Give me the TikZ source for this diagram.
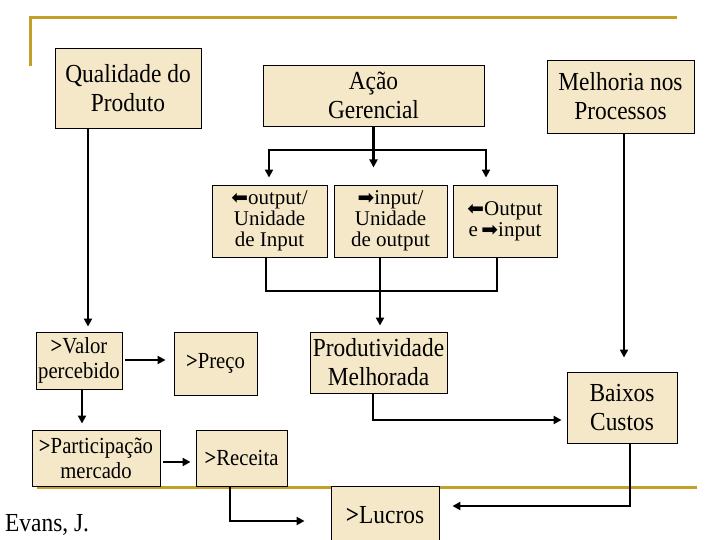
\documentclass[tikz,border=0pt]{standalone}
\usepackage{fontspec}
\setmainfont{Liberation Serif}
\newfontfamily\bigf{Liberation Serif}[FakeStretch=0.9]
\newfontfamily\symf{DejaVu Sans}
\usetikzlibrary{arrows.meta}
\definecolor{boxfill}{RGB}{245,232,200}
\definecolor{gold}{RGB}{196,160,40}
\newcommand\myLarr{{\symf\fontsize{20}{20}\selectfont ⬅}}
\newcommand\myRarr{{\symf\fontsize{20}{20}\selectfont ➡}}
\begin{document}
\begin{tikzpicture}[x=1pt,y=-1pt,
 box/.style={draw=black,line width=0.9pt,fill=boxfill,inner sep=0pt,align=center},
 bigt/.style={font=\bigf\fontsize{26}{29}\selectfont},
 medt/.style={font=\bigf\fontsize{23}{25}\selectfont},
 smt/.style={font=\fontsize{21}{21}\selectfont},
 ln/.style={line width=2.6pt},
 arr/.style={ln,-{Triangle[length=8pt,width=8pt]}},
 darr/.style={ln,{Triangle[length=8pt,width=8pt]}-{Triangle[length=8pt,width=8pt]}},
 goldln/.style={draw=gold,line width=3pt}]
\useasboundingbox (0,0) rectangle (720,540);
\clip (0,0) rectangle (720,540);
\fill[white] (0,0) rectangle (720,540);
\draw[goldln] (30,66) -- (30,18) -- (677,18);
\draw[goldln] (37,487) -- (697,487);

% boxes
\node[box,bigt,minimum width=146pt,minimum height=80pt] (qual) at (128,88) {Qualidade do\\Produto};
\node[box,bigt,minimum width=221pt,minimum height=61pt] (acao) at (373.5,95.5) {Ação\\Gerencial};
\node[box,bigt,minimum width=147pt,minimum height=73pt] (melh) at (620.5,96.5) {Melhoria nos\\Processos};
\node[box,smt,minimum width=115pt,minimum height=72pt] (outp) at (269.5,221) {\myLarr output/\\Unidade\\de Input};
\node[box,smt,minimum width=113pt,minimum height=72pt] (inp) at (390.5,221) {\myRarr input/\\Unidade\\de output};
\node[box,smt,minimum width=104pt,minimum height=72pt] (both) at (505,221) {\myLarr Output\\e\,\myRarr input};
\node[box,medt,minimum width=86pt,minimum height=57pt] (valor) at (79,360.5) {\textbf{>}Valor\\percebido};
\node[box,medt,minimum width=83pt,minimum height=63pt] (preco) at (215.5,363.5) {\textbf{>}Preço};
\node[box,bigt,minimum width=137pt,minimum height=61pt] (prod) at (378.5,362.5) {Produtividade\\Melhorada};
\node[box,bigt,minimum width=110pt,minimum height=71pt] (baixos) at (622,407.5) {Baixos\\Custos};
\node[box,medt,minimum width=128pt,minimum height=56pt] (part) at (96,458) {\textbf{>}Participação\\mercado};
\node[box,medt,minimum width=91pt,minimum height=56pt] (receita) at (241.5,458) {\textbf{>}Receita};
\node[box,bigt,minimum width=108pt,minimum height=58pt] (lucros) at (385,515) {\textbf{>}Lucros};
\node[bigt,anchor=base west,inner sep=0pt] (evans) at (5,531) {Evans, J.};

% helper coordinates
\coordinate (cq) at (88,0);
\coordinate (hb) at (0,150);
\coordinate (cl) at (269,0);
\coordinate (cr) at (486,0);
\coordinate (hm) at (0,291);
\coordinate (c266) at (266,0);
\coordinate (c380) at (380,0);
\coordinate (c497) at (497,0);
\coordinate (cv) at (82,0);
\coordinate (h462) at (0,462);
\coordinate (cp) at (373,0);
\coordinate (hp) at (0,420);
\coordinate (cr2) at (230,0);
\coordinate (hr) at (0,521);
\coordinate (cb) at (630,0);
\coordinate (hl) at (0,506);
\coordinate (cm) at (624,0);
\coordinate (h360) at (0,360);

% connectors
\draw[arr,shorten >=5pt] (qual.south -| cq) -- (valor.north -| cq);
\draw[arr] (acao.south) -- ++(0,41);
\draw[darr,shorten <=7pt,shorten >=7pt] (outp.north -| cl) -- (hb -| cl) -- (hb -| cr) -- (both.north -| cr);
\draw[ln] (outp.south -| c266) -- (hm -| c266) -- (hm -| c497) -- (both.south -| c497);
\draw[arr,shorten >=6pt] (inp.south -| c380) -- (prod.north -| c380);
\draw[arr,shorten <=3pt,shorten >=8pt] (valor.east |- h360) -- (preco.west |- h360);
\draw[arr,shorten >=6pt] (valor.south -| cv) -- (part.north -| cv);
\draw[arr,shorten <=3pt,shorten >=5pt] (part.east |- h462) -- (receita.west |- h462);
\draw[arr,shorten >=5pt] (prod.south -| cp) -- (hp -| cp) -- (baixos.west |- hp);
\draw[arr,shorten >=26pt] (receita.south -| cr2) -- (hr -| cr2) -- (lucros.west |- hr);
\draw[arr,shorten >=13pt] (baixos.south -| cb) -- (hl -| cb) -- (lucros.east |- hl);
\draw[arr,shorten >=14pt] (melh.south -| cm) -- (baixos.north -| cm);
\end{tikzpicture}
\end{document}
